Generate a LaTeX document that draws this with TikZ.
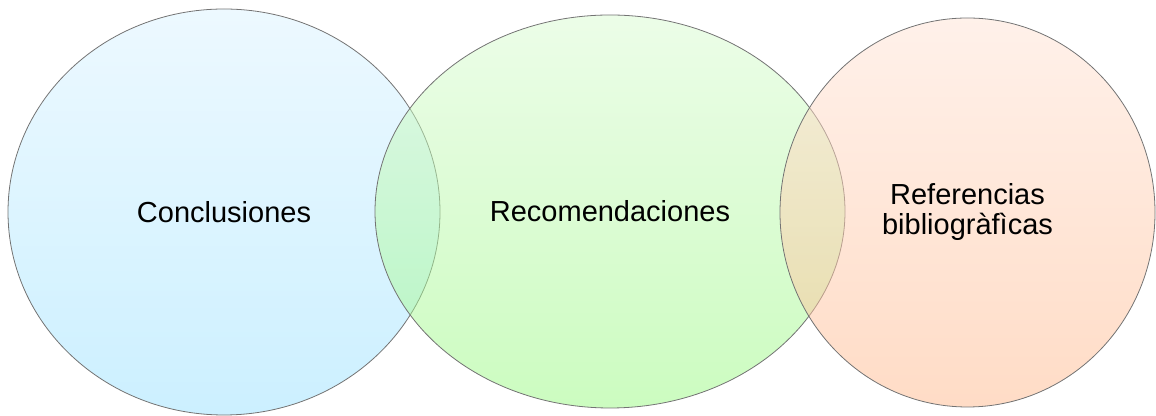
\documentclass[tikz,border=0pt]{standalone}
\usepackage{fontspec}
\setmainfont{Liberation Sans}
\usetikzlibrary{shapes.geometric}
\definecolor{bluetop}{RGB}{219,243,255}
\definecolor{bluebot}{RGB}{153,225,255}
\definecolor{greentop}{RGB}{217,251,209}
\definecolor{greenbot}{RGB}{153,249,129}
\definecolor{orangetop}{RGB}{255,227,213}
\definecolor{orangebot}{RGB}{255,185,141}

\begin{document}
\begin{tikzpicture}[x=0.75pt,y=0.75pt,
  bubble/.style={ellipse,draw=black!55,line width=0.6pt,inner sep=0pt,fill opacity=0.5,text opacity=1,
    align=center,font=\fontsize{21.75}{22.5}\selectfont}]
\useasboundingbox (0,0) rectangle (1156,416);
\node [bubble,top color=bluetop,bottom color=bluebot,minimum width=324pt,minimum height=304.5pt] (conc) at (224,204) {Conclusiones};
\node [bubble,top color=greentop,bottom color=greenbot,minimum width=352.5pt,minimum height=294.75pt] (recom) at (610,204.5) {Recomendaciones};
\node [bubble,top color=orangetop,bottom color=orangebot,minimum width=281.25pt,minimum height=291.75pt] (refs) at (967.5,203.5) {Referencias\\bibliogràfìcas};
\end{tikzpicture}
\end{document}
